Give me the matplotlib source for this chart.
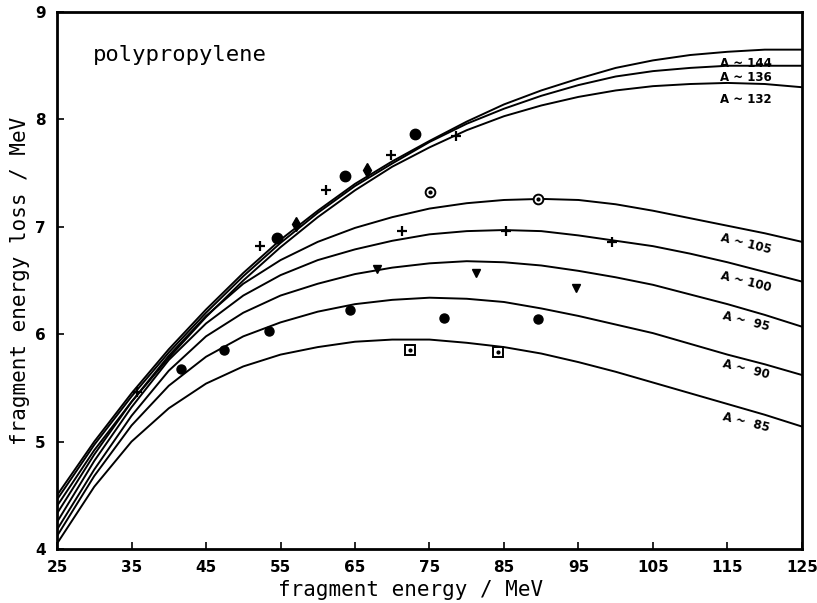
import matplotlib
matplotlib.use("Agg")
import matplotlib.pyplot as plt

# ---- data -------------------------------------------------------------
energy = [25, 30, 35, 40, 45, 50, 55, 60, 65, 70, 75, 80, 85, 90, 95, 100, 105, 110, 115, 120, 125]

loss_A144 = [4.50, 5.00, 5.45, 5.86, 6.23, 6.57, 6.88, 7.15, 7.40, 7.61, 7.80, 7.98, 8.14, 8.27, 8.38, 8.48, 8.55, 8.60, 8.63, 8.65, 8.65]
loss_A136 = [4.46, 4.97, 5.42, 5.83, 6.20, 6.54, 6.85, 7.13, 7.38, 7.59, 7.79, 7.96, 8.10, 8.22, 8.32, 8.40, 8.45, 8.48, 8.50, 8.50, 8.50]
loss_A132 = [4.40, 4.92, 5.37, 5.78, 6.16, 6.50, 6.81, 7.09, 7.34, 7.56, 7.74, 7.90, 8.03, 8.13, 8.21, 8.27, 8.31, 8.33, 8.34, 8.33, 8.30]
loss_A105 = [4.33, 4.88, 5.37, 5.80, 6.17, 6.47, 6.69, 6.86, 6.99, 7.09, 7.17, 7.22, 7.25, 7.26, 7.25, 7.21, 7.15, 7.08, 7.01, 6.94, 6.86]
loss_A100 = [4.25, 4.82, 5.32, 5.76, 6.10, 6.36, 6.55, 6.69, 6.79, 6.87, 6.93, 6.96, 6.97, 6.96, 6.92, 6.87, 6.82, 6.75, 6.67, 6.58, 6.49]
loss_A95 = [4.18, 4.74, 5.24, 5.66, 5.98, 6.20, 6.36, 6.47, 6.56, 6.62, 6.66, 6.68, 6.67, 6.64, 6.59, 6.53, 6.46, 6.37, 6.28, 6.18, 6.07]
loss_A90 = [4.12, 4.68, 5.15, 5.52, 5.79, 5.98, 6.11, 6.21, 6.28, 6.32, 6.34, 6.33, 6.30, 6.24, 6.17, 6.09, 6.01, 5.91, 5.81, 5.72, 5.62]
loss_A85 = [4.05, 4.58, 5.00, 5.31, 5.54, 5.70, 5.81, 5.88, 5.93, 5.95, 5.95, 5.92, 5.88, 5.82, 5.74, 5.65, 5.55, 5.45, 5.35, 5.25, 5.14]

curve_labels = ["A ~ 144", "A ~ 136", "A ~ 132", "A ~ 105", "A ~ 100", "A ~  95", "A ~  90", "A ~  85"]

# measured points
heavy_dot_E = [54.5, 63.7, 73.0]
heavy_dot_L = [6.90, 7.47, 7.86]
heavy_plus_E = [35.8, 52.2, 61.1, 69.8, 78.6]
heavy_plus_L = [5.46, 6.82, 7.34, 7.67, 7.85]
heavy_pin_E = [57.1, 66.6]
heavy_pin_L = [7.03, 7.53]
ring_E = [75.1, 89.5]
ring_L = [7.32, 7.26]
plus100_E = [71.3, 85.3, 99.5]
plus100_L = [6.96, 6.96, 6.86]
tri95_E = [67.9, 81.2, 94.6]
tri95_L = [6.61, 6.57, 6.43]
dot90_E = [41.6, 47.4, 53.5, 64.3, 77.0, 89.5]
dot90_L = [5.68, 5.85, 6.03, 6.23, 6.15, 6.14]
sq85_E = [72.4, 84.2]
sq85_L = [5.85, 5.83]

x_ticks = [25, 35, 45, 55, 65, 75, 85, 95, 105, 115, 125]
y_ticks = [4, 5, 6, 7, 8, 9]

# ---- figure -----------------------------------------------------------
fig = plt.figure(figsize=(8.17, 6.03), dpi=100)
ax = fig.add_axes([0.0698, 0.0896, 0.9118, 0.8904])

curves = [loss_A144, loss_A136, loss_A132, loss_A105, loss_A100, loss_A95, loss_A90, loss_A85]
for c in curves:
    ax.plot(energy, c, color="black", lw=1.4, solid_capstyle="round", solid_joinstyle="round")

k = dict(color="black", linestyle="none")
ax.plot(heavy_dot_E, heavy_dot_L, marker="o", ms=7.5, **k)
ax.plot(heavy_plus_E, heavy_plus_L, marker="+", ms=7, mew=1.6, **k)
ax.plot(heavy_pin_E, heavy_pin_L, marker="d", ms=7, **k)
ax.plot(ring_E, ring_L, marker="o", ms=7, mfc="white", mew=1.4, **k)
ax.plot(ring_E, ring_L, marker="o", ms=2, **k)
ax.plot(plus100_E, plus100_L, marker="+", ms=7, mew=1.6, **k)
ax.plot(tri95_E, tri95_L, marker="v", ms=6, **k)
ax.plot(dot90_E, dot90_L, marker="o", ms=6.5, **k)
ax.plot(sq85_E, sq85_L, marker="s", ms=6.5, mfc="white", mew=1.4, **k)
ax.plot(sq85_E, sq85_L, marker="o", ms=2, **k)

# curve labels
label_y = [8.52, 8.39, 8.19, 6.84, 6.49, 6.12, 5.67, 5.18]
label_rot = [0, 0, 0, -14, -14, -14, -14, -14]
for t, yy, r in zip(curve_labels, label_y, label_rot):
    ax.text(117.5, yy, t, ha="center", va="center", rotation=r,
            fontsize=8.5, fontweight="bold", family="DejaVu Sans")

ax.text(29.8, 8.6, "polypropylene", fontsize=16, family="DejaVu Sans Mono",
        ha="left", va="center")

ax.set_xlim(25, 125)
ax.set_ylim(4, 9)
ax.set_xticks(x_ticks)
ax.set_yticks(y_ticks)
ax.tick_params(direction="in", length=5, width=1.2, labelsize=11, pad=8)
for lab in ax.get_xticklabels() + ax.get_yticklabels():
    lab.set_fontweight("bold")
for s in ax.spines.values():
    s.set_linewidth(2.0)

ax.set_xlabel("fragment energy / MeV", fontsize=15, family="DejaVu Sans Mono")
ax.set_ylabel("fragment energy loss / MeV", fontsize=15, family="DejaVu Sans Mono")
ax.xaxis.set_label_coords(0.475, -0.058)
ax.yaxis.set_label_coords(-0.036, 0.5)

fig.savefig("out.png", dpi=100)
